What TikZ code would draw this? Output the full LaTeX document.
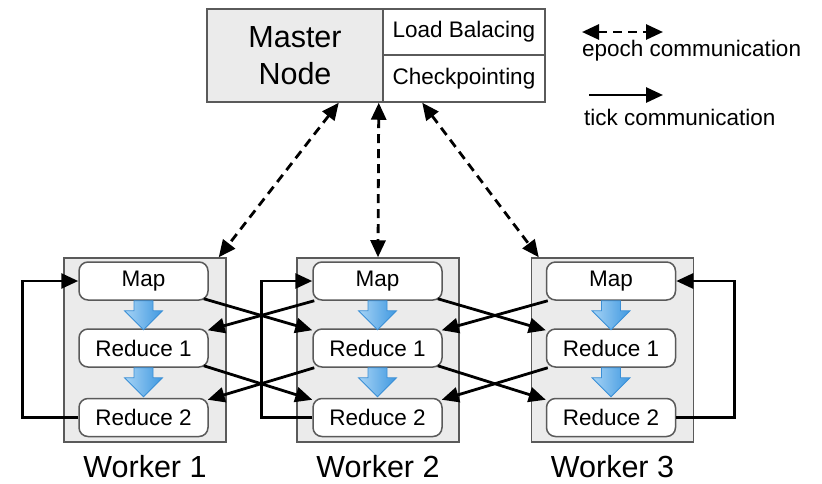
\documentclass[tikz,border=0pt]{standalone}
\usepackage{fontspec}
\setmainfont{Liberation Sans}
\usetikzlibrary{arrows.meta,calc}
\definecolor{boxgray}{HTML}{EBEBEB}
\definecolor{edgegray}{HTML}{5A5A5A}
\definecolor{blueL}{HTML}{A6D3F5}
\definecolor{blueD}{HTML}{3F98E0}
\definecolor{blueEdge}{HTML}{3A8FD6}
\begin{document}
\begin{tikzpicture}[x=1pt,y=-1pt,
  bigtext/.style={font=\fontsize{30.5}{38}\selectfont},
  smalltext/.style={font=\fontsize{22.5}{26}\selectfont},
  panel/.style={draw=edgegray, line width=1.5pt, inner sep=0pt},
  worker/.style={panel, fill=boxgray, minimum width=162pt, minimum height=184pt},
  task/.style={panel, fill=white, rounded corners=9pt, minimum width=129pt, minimum height=38pt, smalltext},
  tick/.style={line width=2.8pt, -{Triangle[length=17pt,width=15pt]}},
  epoch/.style={line width=2.8pt, dash pattern=on 9pt off 6pt,
    {Triangle[length=17pt,width=15pt]}-{Triangle[length=17pt,width=15pt]}},
  flow/.pic={\shade[left color=blueL,right color=blueD,draw=blueEdge,line width=0.8pt]
    (-9.5,0) -- (9.5,0) -- (9.5,10) -- (19,10) -- (0,29) -- (-19,10) -- (-9.5,10) -- cycle;},
]
\useasboundingbox (0,0) rectangle (822,483);

% master node with its two services
\node[panel, fill=boxgray, minimum width=176pt, minimum height=93pt, inner sep=0pt,
  bigtext, align=center] (master) at (295,55.5) {Master\\[-1pt]Node};
\node[panel, fill=white, minimum width=162pt, minimum height=46pt, smalltext]
  (lb) at (464,32) {Load Balacing};
\node[panel, fill=white, minimum width=162pt, minimum height=47pt, smalltext]
  (cp) at (464,78.5) {Checkpointing};

% legend
\coordinate (le1) at (582,32);
\coordinate (le2) at (663,32);
\draw[epoch] (le1) -- (le2);
\node[smalltext, anchor=west, inner sep=0pt] (legepoch) at (582,51) {epoch communication};
\coordinate (lt1) at (589,95);
\coordinate (lt2) at (663,95);
\draw[tick] (lt1) -- (lt2);
\node[smalltext, anchor=west, inner sep=0pt] (legtick) at (584,117) {tick communication};

% workers
\foreach \i/\wx/\tx in {1/145/143.5, 2/378/377.5, 3/612.5/611} {
  \node[worker] (w\i) at (\wx,350) {};
  \node[task] (map\i) at (\tx,281) {Map};
  \node[task] (ra\i) at (\tx,348) {Reduce 1};
  \node[task] (rb\i) at (\tx,417.5) {Reduce 2};
  \pic at (map\i.south) {flow};
  \pic at (ra\i.south) {flow};
  \node[bigtext] (lab\i) at (\wx,467) {Worker \i};
}

% epoch communication with the master
\draw[epoch] ($(master.south east)+(-45,0)$) -- ($(w1.north east)+(-8,0)$);
\draw[epoch] ($(master.south east)+(-5,0)$) -- (w2.north);
\draw[epoch] ($(cp.south west)+(40,0)$) -- ($(w3.north west)+(8,0)$);

% local feedback loops
\draw[tick] (rb1.west) -- ++(-56,0) |- (map1.west);
\draw[tick] (rb2.west) -- ++(-51,0) |- (map2.west);
\draw[tick] (rb3.east) -- ++(58,0) |- (map3.east);

% tick communication between neighbouring workers
\foreach \a/\b in {1/2, 2/3} {
  \draw[tick] ($(map\a.south east)+(-5,-2)$) -- ($(ra\b.north west)+(0,2)$);
  \draw[tick] ($(map\b.south west)+(2,0)$) -- ($(ra\a.north east)+(-1,2)$);
  \draw[tick] ($(ra\a.south east)+(-5,-2)$) -- ($(rb\b.north west)+(0,2)$);
  \draw[tick] ($(ra\b.south west)+(2,0)$) -- ($(rb\a.north east)+(-1,2)$);
}
\end{tikzpicture}
\end{document}
